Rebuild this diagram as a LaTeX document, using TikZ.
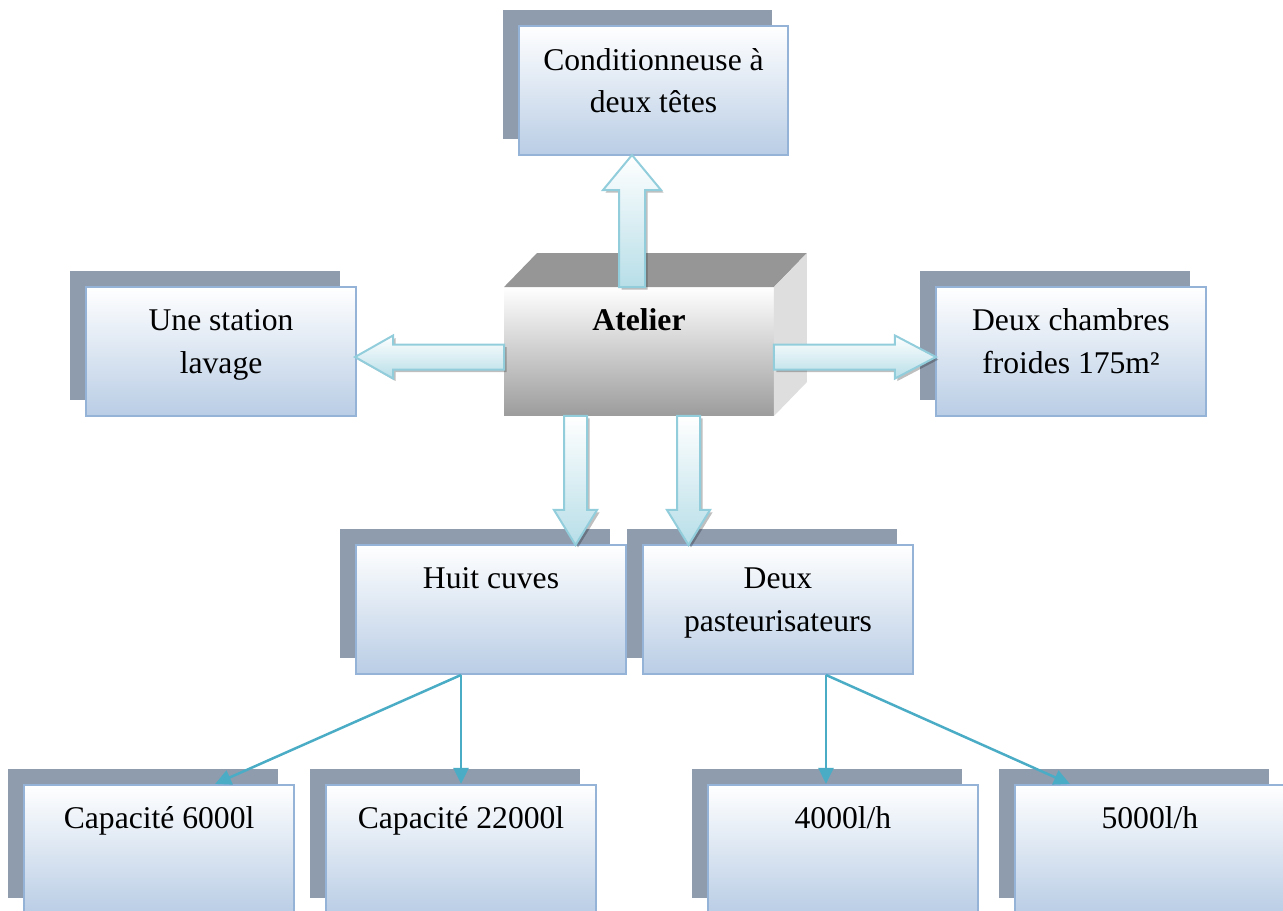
\documentclass[tikz,border=0pt]{standalone}
\usepackage{fontspec}
\setmainfont{Liberation Serif}
\usetikzlibrary{positioning, shadows, arrows.meta}

\definecolor{shadowgray}{HTML}{8F9CAE}
\definecolor{boxfill}{HTML}{B9CDE5}
\definecolor{boxline}{HTML}{95B3D7}
\definecolor{linkteal}{HTML}{4BACC6}
\definecolor{arrowline}{HTML}{92CDDC}
\definecolor{arrowfill}{HTML}{B7DEE8}
\definecolor{cubetop}{HTML}{969696}
\definecolor{cubeside}{HTML}{DEDEDE}
\definecolor{cubefront}{HTML}{9C9C9C}

\tikzset{
  every node/.style={font=\fontsize{18pt}{24pt}\selectfont},
  box/.style={rectangle, draw=boxline, line width=0.04cm,
    top color=white, bottom color=boxfill,
    text width=5cm, align=flush center, inner xsep=0.2cm, inner ysep=9.3pt,
    text height=15.7pt, text depth=39.1pt,
    general shadow={shadow xshift=-0.32cm, shadow yshift=0.32cm, fill=shadowgray}},
  cube/.style={rectangle, top color=white, middle color=gray!25, bottom color=cubefront, outer sep=0pt,
    text width=5cm, align=flush center, inner xsep=0.2cm, inner ysep=9.3pt,
    text height=15.7pt, text depth=39.1pt, font=\fontsize{18pt}{24pt}\selectfont\bfseries},
  barrow/.style={draw=arrowline, line width=0.04cm, line join=miter,
    top color=white, bottom color=arrowfill,
    general shadow={shadow xshift=0.05cm, shadow yshift=-0.05cm, fill=black, opacity=0.25}},
  link/.style={draw=linkteal, line width=0.05cm, -{Triangle[length=0.32cm, width=0.3cm]}}
}

\begin{document}
\begin{tikzpicture}[x=0.02cm, y=-0.02cm]
    \clip (0,0) rectangle (1283,910);
    %
    \node [cube] (atelier) at (639,351.5) {Atelier};
    \node [box, above of=atelier, node distance=5.22cm, xshift=0.29cm] (cond) {Conditionneuse à\\deux têtes};
    \node [box, left of=atelier, node distance=8.36cm] (lavage) {Une station\\lavage};
    \node [box, right of=atelier, node distance=8.64cm] (froid) {Deux chambres\\froides 175m²};
    \node [box, below of=atelier, node distance=5.16cm, xshift=-2.96cm] (cuves) {Huit cuves};
    \node [box, right of=cuves, node distance=5.74cm] (pasteur) {Deux\\pasteurisateurs};
    \node [box, below of=cuves, node distance=4.8cm, xshift=-6.64cm] (cap1) {Capacité 6000l};
    \node [box, right of=cap1, node distance=6.04cm] (cap2) {Capacité 22000l};
    \node [box, below of=pasteur, node distance=4.8cm, xshift=1.3cm] (deb1) {4000l/h};
    \node [box, right of=deb1, node distance=6.14cm] (deb2) {5000l/h};
    %
    % cube faces
    \fill[cubetop] (atelier.north west) -- ++(33,-34) -- ([shift={(33,-34)}]atelier.north east) -- (atelier.north east) -- cycle;
    \fill[cubeside] (atelier.north east) -- ++(33,-34) -- ([shift={(33,-34)}]atelier.south east) -- (atelier.south east) -- cycle;
    %
    % block arrows
    \draw[barrow] ([shift={(-20,0)}]atelier.north) -- ++(0,-97) -- ++(-16,0) -- ++(29,-35) -- ++(29,35) -- ++(-16,0) -- ++(0,97) -- cycle;
    \draw[barrow] ([shift={(0,-7)}]atelier.west) -- ++(-111,0) -- ++(0,-9) -- ++(-38,21.5) -- ++(38,21.5) -- ++(0,-9) -- ++(111,0) -- cycle;
    \draw[barrow] ([shift={(0,-7)}]atelier.east) -- ++(121,0) -- ++(0,-9) -- ++(41,21.5) -- ++(-41,21.5) -- ++(0,-9) -- ++(-121,0) -- cycle;
    \draw[barrow] ([shift={(-75,0)}]atelier.south) -- ++(0,94) -- ++(-10,0) -- ++(21.5,35) -- ++(21.5,-35) -- ++(-10,0) -- ++(0,-94) -- cycle;
    \draw[barrow] ([shift={(38,0)}]atelier.south) -- ++(0,94) -- ++(-10,0) -- ++(21.5,35) -- ++(21.5,-35) -- ++(-10,0) -- ++(0,-94) -- cycle;
    %
    % thin links
    \coordinate (cuvesOut) at ([shift={(-30,0)}]cuves.south);
    \coordinate (pastOut) at ([shift={(48,0)}]pasteur.south);
    \draw[link] (cuvesOut) -- ([shift={(56,0)}]cap1.north);
    \draw[link] (cuvesOut) -- (cuvesOut |- cap2.north);
    \draw[link] (pastOut) -- (pastOut |- deb1.north);
    \draw[link] (pastOut) -- ([shift={(-80,0)}]deb2.north);
\end{tikzpicture}
\end{document}
